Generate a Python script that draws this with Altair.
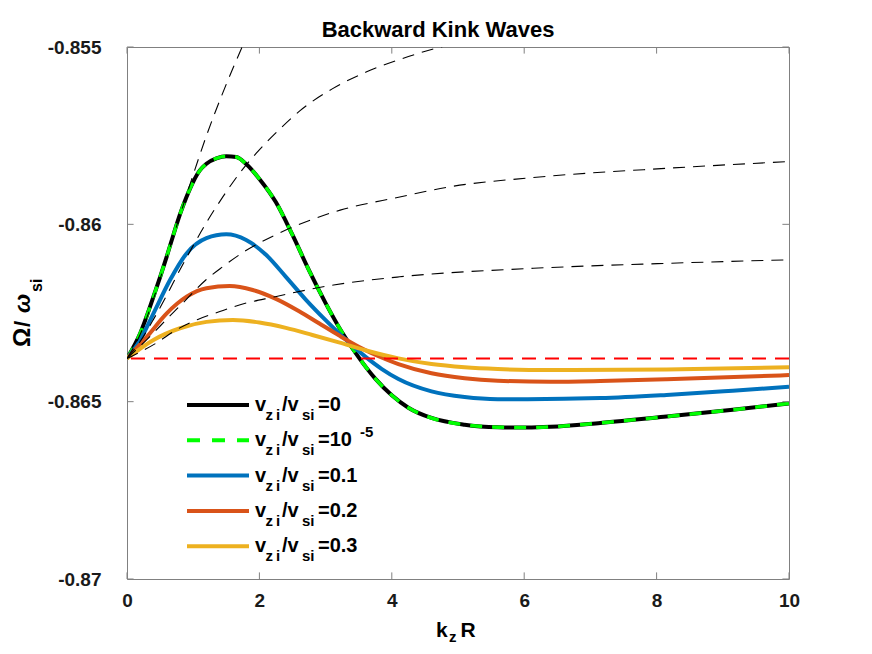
import altair as alt
import pandas as pd

# ---------------- data ----------------
X_TICKS = [0, 2, 4, 6, 8, 10]
Y_TICKS = [-0.87, -0.865, -0.86, -0.855]
RED_LEVEL = -0.86378

# v_zi/v_si = 0  (the 1e-5 curve is visually identical)
K_V0 = [0, 0.2, 0.4, 0.6, 0.7, 0.8, 0.9, 1.0, 1.1, 1.2, 1.35, 1.5, 1.65, 1.8, 2.0, 2.25,
        2.5, 2.75, 3.0, 3.25, 3.5, 3.75, 4.0, 4.25, 4.6, 5.1, 5.6, 6.05, 6.4, 7.15, 8.15,
        9.15, 10]
W_V0 = [-0.86378, -0.86307, -0.86204, -0.86091, -0.86030, -0.85972, -0.85922, -0.85880,
        -0.85848, -0.85829, -0.85814, -0.85808, -0.85810, -0.85830, -0.85872, -0.85938,
        -0.86030, -0.86130, -0.86222, -0.86305, -0.86375, -0.86435, -0.86482, -0.86517,
        -0.86546, -0.86565, -0.86572, -0.86573, -0.86571, -0.86560, -0.86542, -0.86523,
        -0.86505]
K_V5 = list(K_V0)
W_V5 = list(W_V0)

K_V1 = [0, 0.2, 0.4, 0.65, 0.9, 1.2, 1.5, 1.8, 2.1, 2.4, 2.7, 3.0, 3.3, 3.6, 3.85,
        4.1, 4.6, 5.1, 5.6, 6.05, 7.15, 8.15, 9.15, 10]
W_V1 = [-0.86378, -0.86326, -0.86251, -0.86157, -0.86082, -0.86039, -0.86028, -0.86044,
        -0.86086, -0.86148, -0.86212, -0.86270, -0.86324, -0.86373, -0.86408, -0.86436,
        -0.86471, -0.86487, -0.86493, -0.86493, -0.86490, -0.86481, -0.86469, -0.86458]

K_V2 = [0, 0.3, 0.6, 0.9, 1.2, 1.55, 1.9, 2.25, 2.6, 2.9, 3.2, 3.5, 3.8, 4.1, 4.6, 5.1,
        5.6, 6.4, 7.15, 8.15, 10]
W_V2 = [-0.86378, -0.86317, -0.86251, -0.86204, -0.86180, -0.86174, -0.86185, -0.86210,
        -0.86245, -0.86279, -0.86313, -0.86345, -0.86372, -0.86394, -0.86420, -0.86434,
        -0.86441, -0.86444, -0.86442, -0.86437, -0.86425]

K_V3 = [0, 0.4, 0.8, 1.2, 1.6, 2.0, 2.4, 2.8, 3.2, 3.6, 4.1, 4.6, 5.1, 5.6, 6.4, 8.15, 10]
W_V3 = [-0.86378, -0.86326, -0.86293, -0.86275, -0.86270, -0.86277, -0.86292, -0.86312,
        -0.86333, -0.86355, -0.86378, -0.86394, -0.86403, -0.86408, -0.86411, -0.86409,
        -0.86403]

# thin dashed black reference curves
K_D1 = [0, 0.2, 0.4, 0.6, 0.8, 1.0, 1.2, 1.45, 1.75]
W_D1 = [-0.86378, -0.86310, -0.86210, -0.86095, -0.85975, -0.85860, -0.85750, -0.85628,
        -0.85495]
K_D2 = [0, 0.2, 0.4, 0.6, 0.8, 1.0, 1.2, 1.45, 1.7, 1.95, 2.3, 2.61, 3.1, 3.62, 4.12,
        4.6, 4.8]
W_D2 = [-0.86378, -0.86330, -0.86268, -0.86200, -0.86128, -0.86060, -0.85995, -0.85922,
        -0.85856, -0.85800, -0.85733, -0.85680, -0.85618, -0.85570, -0.85535, -0.85507,
        -0.85497]
K_D3 = [0, 0.3, 0.64, 0.89, 1.19, 1.45, 1.77, 2.24, 3.22, 4.12, 4.88, 6.14, 8.15, 10]
W_D3 = [-0.86378, -0.86325, -0.86260, -0.86213, -0.86157, -0.86119, -0.86077, -0.86030,
        -0.85960, -0.85923, -0.85894, -0.85868, -0.85842, -0.85823]
K_D4 = [0, 0.44, 0.74, 1.07, 1.45, 1.65, 2.24, 3.12, 4.12, 6.14, 8.15, 10]
W_D4 = [-0.86378, -0.86335, -0.86298, -0.86268, -0.86243, -0.86230, -0.86204, -0.86171,
        -0.86148, -0.86124, -0.86110, -0.86100]

LEGEND_VALUES = ["0", "10", "0.1", "0.2", "0.3"]
LEGEND_SUPER = ["", "-5", "", "", ""]

# ---------------- styling ----------------
W, H = 662, 532
FONT = "Liberation Sans"
GRAY = "#808080"
C_BLACK = "#000000"
C_GREEN = "#00FF00"
C_BLUE = "#0072BD"
C_ORANGE = "#D95319"
C_YELLOW = "#EDB120"

xs = alt.Scale(domain=[0, 10], nice=False, zero=False)
ys = alt.Scale(domain=[-0.87, -0.855], nice=False, zero=False)
xaxis = alt.Axis(values=X_TICKS, title=None, ticks=False, domain=False, grid=False,
                 labelFont=FONT, labelFontSize=19, labelFontWeight="bold",
                 labelColor="#1a1a1a", labelPadding=12, labelAngle=0, format="d",
                 labelFlush=False, labelOverlap=False)
yaxis = alt.Axis(values=Y_TICKS, title=None, ticks=False, domain=False, grid=False,
                 labelFont=FONT, labelFontSize=19, labelFontWeight="bold",
                 labelColor="#1a1a1a", labelPadding=26, labelFlush=False,
                 labelOverlap=False,
                 labelExpr="'-' + format(abs(datum.value), '~g')")

X = alt.X("k:Q", scale=xs, axis=xaxis)
Y = alt.Y("w:Q", scale=ys, axis=yaxis)


def curve(ks, ws, color, width, dash=None):
    kw = dict(color=color, strokeWidth=width, clip=True, interpolate="monotone")
    if dash:
        kw["strokeDash"] = dash
    return alt.Chart(pd.DataFrame({"k": ks, "w": ws})).mark_line(**kw).encode(x=X, y=Y)


dummy = pd.DataFrame({"a": [0]})


def txt(s, x, y, size, angle=0, style="normal", align="left", weight="bold"):
    kw = dict(text=s, font=FONT, fontSize=size, fontWeight=weight, color="#000000",
              align=align, baseline="alphabetic")
    if angle:
        kw["angle"] = angle
    if style != "normal":
        kw["fontStyle"] = style
    return alt.Chart(dummy).mark_text(**kw).encode(x=alt.value(x), y=alt.value(y))


layers = [
    curve(K_V0, W_V0, C_BLACK, 4),
    curve(K_V5, W_V5, C_GREEN, 3.5, [12, 10]),
    curve(K_V1, W_V1, C_BLUE, 4),
    curve(K_V2, W_V2, C_ORANGE, 4),
    curve(K_V3, W_V3, C_YELLOW, 4),
    curve(K_D1, W_D1, C_BLACK, 1.1, [12, 8]),
    curve(K_D2, W_D2, C_BLACK, 1.1, [12, 8]),
    curve(K_D3, W_D3, C_BLACK, 1.1, [12, 8]),
    curve(K_D4, W_D4, C_BLACK, 1.1, [12, 8]),
    alt.Chart(pd.DataFrame({"w": [RED_LEVEL]})).mark_rule(
        color="#FF0000", strokeWidth=2, strokeDash=[14, 9]).encode(y=Y),
]

# inward tick marks on all four sides
TL = 6.6
xt = pd.DataFrame({"k": X_TICKS})
yt = pd.DataFrame({"w": Y_TICKS})
layers += [
    alt.Chart(xt).mark_rule(color=GRAY, strokeWidth=1).encode(
        x=X, y=alt.value(H), y2=alt.value(H - TL)),
    alt.Chart(xt).mark_rule(color=GRAY, strokeWidth=1).encode(
        x=X, y=alt.value(0), y2=alt.value(TL)),
    alt.Chart(yt).mark_rule(color=GRAY, strokeWidth=1).encode(
        y=Y, x=alt.value(0), x2=alt.value(TL)),
    alt.Chart(yt).mark_rule(color=GRAY, strokeWidth=1).encode(
        y=Y, x=alt.value(W), x2=alt.value(W - TL)),
]

# title and axis titles (with sub-scripts)
layers += [
    txt("Backward Kink Waves", 311, -9.7, 22, align="center"),
    txt("k", 309, 590, 21),
    txt("z", 322, 595, 15),
    txt("R", 333.5, 590, 21),
    txt("Ω", -97, 300, 24, angle=270),
    txt("/", -97, 280, 22, angle=270),
    txt("ω", -97, 266, 23, angle=270, style="italic"),
    txt("si", -85, 245, 16, angle=270),
]

# legend
LEG_COLORS = [C_BLACK, C_GREEN, C_BLUE, C_ORANGE, C_YELLOW]
for i, (val, sup, col) in enumerate(zip(LEGEND_VALUES, LEGEND_SUPER, LEG_COLORS)):
    ly = 358 + 35.3 * i
    rk = dict(color=col, strokeWidth=4)
    if i == 1:
        rk["strokeDash"] = [13, 12]
    layers.append(alt.Chart(dummy).mark_rule(**rk).encode(
        x=alt.value(60), x2=alt.value(122), y=alt.value(ly)))
    layers += [
        txt("v", 128, ly + 6, 20),
        txt("z", 138.5, ly + 15, 15),
        txt("i", 149, ly + 15, 15),
        txt("/v", 155, ly + 6, 20),
        txt("si", 175, ly + 15, 15),
        txt("=" + val, 191, ly + 6, 20),
    ]
    if sup:
        layers.append(txt(sup, 233, ly - 3, 15))

chart = alt.layer(*layers).properties(
    width=W, height=H,
    autosize=alt.AutoSizeParams(type="none"),
    padding={"left": 119, "top": 39, "right": 40, "bottom": 67},
    background="white",
).configure_view(stroke=GRAY, strokeWidth=1)

chart.save("out.html", embed_options={"renderer": "svg", "actions": False})
